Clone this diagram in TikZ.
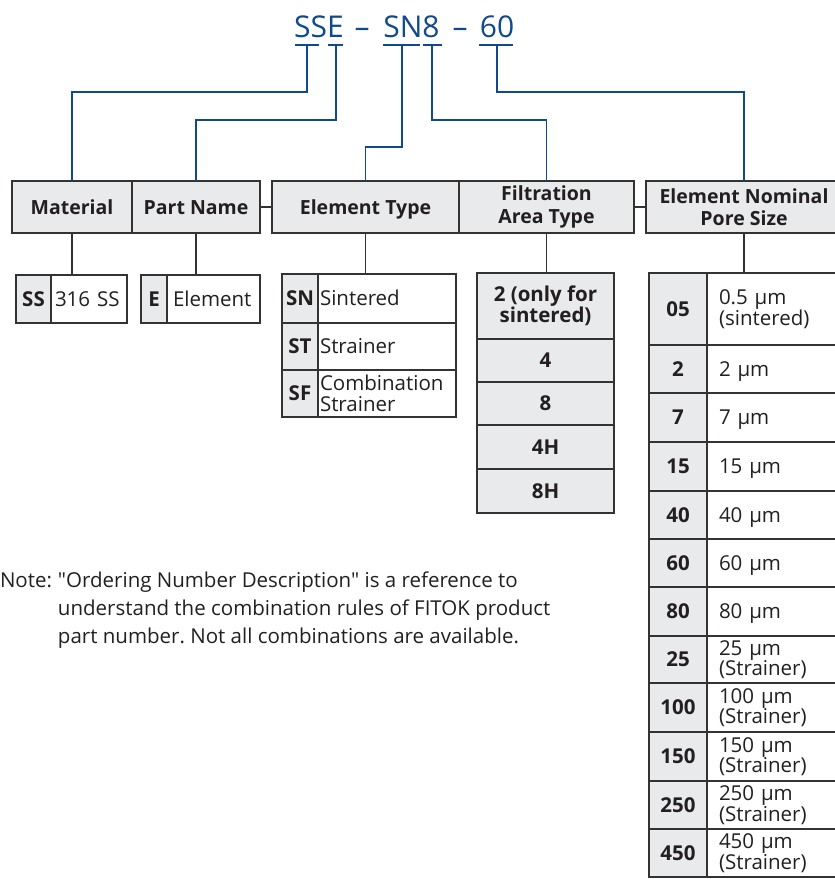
\documentclass[tikz,border=0pt]{standalone}
\usepackage{fontspec}
\setmainfont{Open Sans}[Ligatures=TeXOff]
\definecolor{fblue}{HTML}{114A8C}
\definecolor{cellgray}{HTML}{E9EAEC}
\definecolor{rulec}{HTML}{333333}
\definecolor{txt}{HTML}{231F20}
\frenchspacing
\begin{document}
\begin{tikzpicture}[x=1pt,y=-1pt,
  every node/.style={text=txt, inner sep=0pt, outer sep=0pt},
  box/.style={draw=rulec, line width=1.3pt, fill=cellgray, align=center,
     font=\bfseries\fontsize{19.5}{22.5}\selectfont},
  code/.style={draw=rulec, line width=1.3pt, fill=cellgray, align=center,
     font=\bfseries\fontsize{20.5}{21}\selectfont},
  desc/.style={draw=rulec, line width=1.3pt, fill=white, align=left,
     font=\fontsize{20.5}{20.5}\selectfont},
  one/.style={text height=14.5pt, text depth=0pt},
  title/.style={text=fblue, font=\fontsize{30}{30}\selectfont, anchor=base},
  bl/.style={draw=fblue, line width=1.5pt},
  gl/.style={draw=rulec, line width=1.3pt}
]
\useasboundingbox (0,0) rectangle (835,879);
\clip (0,0) rectangle (835,879);

% title
\node[title] (t1) at (319,37) {SSE};
\node[title] (d1) at (362,37) {–};
\node[title] (t2) at (411.5,37) {SN8};
\node[title] (d2) at (460,37) {–};
\node[title] (t3) at (497,37) {60};

\draw[bl] (295,45) -- (319,45);
\draw[bl] (328,45) -- (343,45);
\draw[bl] (383,45) -- (420,45);
\draw[bl] (423,45) -- (442,45);
\draw[bl] (479,45) -- (513,45);
\coordinate (u1) at (307,45);
\coordinate (u2) at (336,45);
\coordinate (u3) at (402,45);
\coordinate (u4) at (432,45);
\coordinate (u5) at (497,45);

% header boxes
\node[box, one, minimum width=120, minimum height=52] (mat) at (72,207) {Material};
\node[box, one, minimum width=128, minimum height=52] (pn) at (196,207) {Part Name};
\node[box, one, minimum width=187, minimum height=52] (et) at (365.5,207) {Element Type};
\node[box, minimum width=175, minimum height=52] (fat) at (546.5,207) {Filtration\\Area Type};
\node[box, minimum width=196, minimum height=52] (enp) at (744,207) {Element Nominal\\Pore Size};
\draw[gl] (pn.east) -- (et.west);
\draw[gl] (fat.east) -- (enp.west);

% blue connectors
\draw[bl] (u1) -- ++(0,47) -| (mat.north);
\draw[bl] (u2) -- ++(0,75) -| (pn.north);
\draw[bl] (u3) -- ++(0,102) -| (et.north);
\draw[bl] (u4) -- ++(0,75) -| (fat.north);
\draw[bl] (u5) -- ++(0,47) -| (enp.north);

% Material table
\node[code, one, minimum width=35, minimum height=48] (ssc) at (33.5,299) {SS};
\node[desc, one, minimum width=76, minimum height=48, text width=68] (ssd) at (89,299) {\mbox{316 SS}};
\draw[gl] (mat.south) -- (mat.south |- ssd.north);

% Part name table
\node[code, one, minimum width=26, minimum height=48] (ec) at (154,299) {E};
\node[desc, one, minimum width=93, minimum height=48, text width=81] (ed) at (213.5,299) {Element};
\draw[gl] (pn.south) -- (pn.south |- ed.north);

% Element type table
\node[code, one, minimum width=36, minimum height=49] (snc) at (300,298.5) {SN};
\node[desc, one, minimum width=138, minimum height=49, text width=134] (snd) at (387,298.5) {Sintered};
\node[code, one, minimum width=36, minimum height=47] (stc) at (300,346.5) {ST};
\node[desc, one, minimum width=138, minimum height=47, text width=134] (std) at (387,346.5) {Strainer};
\node[code, one, minimum width=36, minimum height=47] (sfc) at (300,393.5) {SF};
\node[desc, minimum width=138, minimum height=47, text width=134] (sfd) at (387,393.5) {Combination\\Strainer};
\draw[gl] (et.south) -- (et.south |- snd.north);

% Filtration area type table
\node[code, minimum width=137, minimum height=66] (f1) at (545.5,306) {2 (only for\\sintered)};
\node[code, one, minimum width=137, minimum height=43] (f2) at (545.5,360.5) {4};
\node[code, one, minimum width=137, minimum height=43] (f3) at (545.5,403.5) {8};
\node[code, one, minimum width=137, minimum height=44] (f4) at (545.5,447) {4H};
\node[code, one, minimum width=137, minimum height=44] (f5) at (545.5,491) {8H};
\draw[gl] (fat.south) -- (fat.south |- f1.north);

% Pore size table
\node[code, one, minimum width=58, minimum height=72] (p1c) at (678,309) {05};
\node[desc, minimum width=135, minimum height=72, text width=111] (p1d) at (774.5,309) {0.5 µm\\(sintered)};
\node[code, one, minimum width=58, minimum height=48] (p2c) at (678,369) {2};
\node[desc, one, minimum width=135, minimum height=48, text width=111] (p2d) at (774.5,369) {2 µm};
\node[code, one, minimum width=58, minimum height=49] (p3c) at (678,417.5) {7};
\node[desc, one, minimum width=135, minimum height=49, text width=111] (p3d) at (774.5,417.5) {7 µm};
\node[code, one, minimum width=58, minimum height=49] (p4c) at (678,466.5) {15};
\node[desc, one, minimum width=135, minimum height=49, text width=111] (p4d) at (774.5,466.5) {15 µm};
\node[code, one, minimum width=58, minimum height=48] (p5c) at (678,515) {40};
\node[desc, one, minimum width=135, minimum height=48, text width=111] (p5d) at (774.5,515) {40 µm};
\node[code, one, minimum width=58, minimum height=48] (p6c) at (678,563) {60};
\node[desc, one, minimum width=135, minimum height=48, text width=111] (p6d) at (774.5,563) {60 µm};
\node[code, one, minimum width=58, minimum height=49] (p7c) at (678,611.5) {80};
\node[desc, one, minimum width=135, minimum height=49, text width=111] (p7d) at (774.5,611.5) {80 µm};
\node[code, one, minimum width=58, minimum height=47] (p8c) at (678,659.5) {25};
\node[desc, minimum width=135, minimum height=47, text width=111] (p8d) at (774.5,659.5) {25 µm\\(Strainer)};
\node[code, one, minimum width=58, minimum height=49] (p9c) at (678,707.5) {100};
\node[desc, minimum width=135, minimum height=49, text width=111] (p9d) at (774.5,707.5) {100 µm\\(Strainer)};
\node[code, one, minimum width=58, minimum height=49] (p10c) at (678,756.5) {150};
\node[desc, minimum width=135, minimum height=49, text width=111] (p10d) at (774.5,756.5) {150 µm\\(Strainer)};
\node[code, one, minimum width=58, minimum height=48] (p11c) at (678,805) {250};
\node[desc, minimum width=135, minimum height=48, text width=111] (p11d) at (774.5,805) {250 µm\\(Strainer)};
\node[code, one, minimum width=58, minimum height=48] (p12c) at (678,853) {450};
\node[desc, minimum width=135, minimum height=48, text width=111] (p12d) at (774.5,853) {450 µm\\(Strainer)};
\draw[gl] (enp.south) -- (enp.south |- p1d.north);

% note
\node[anchor=base west, align=left, font=\fontsize{20.5}{28}\selectfont] (note) at (0,643)
 {\makebox[58pt][l]{Note:}"Ordering Number Description" is a reference to\\
  \hspace*{58pt}understand the combination rules of FITOK product\\
  \hspace*{58pt}part number. Not all combinations are available.};
\end{tikzpicture}
\end{document}
